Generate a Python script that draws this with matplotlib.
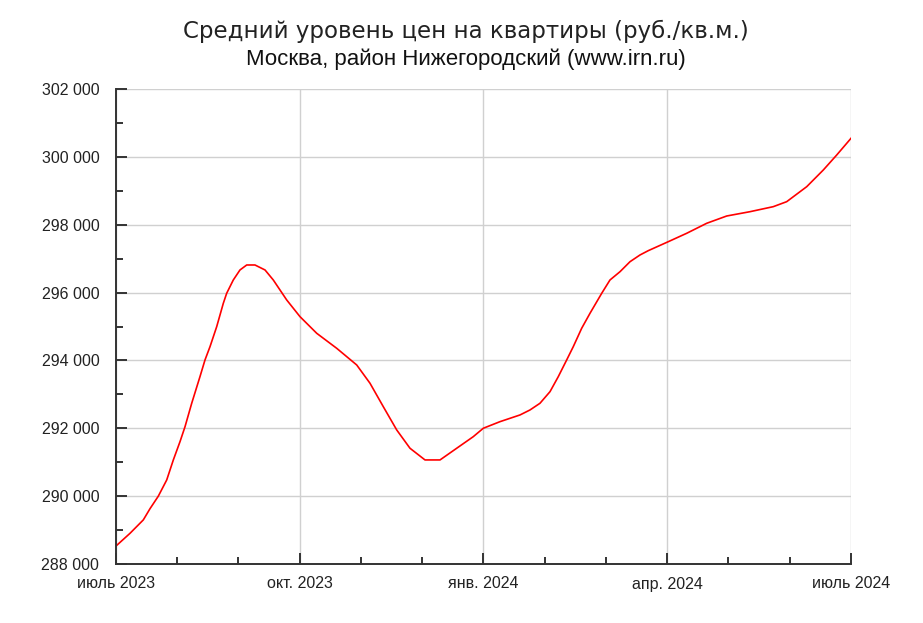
"""Average apartment price, Moscow, Nizhegorodsky district (irn.ru)."""

import matplotlib

matplotlib.use("Agg")

import matplotlib.pyplot as plt
from matplotlib.ticker import FixedLocator, MultipleLocator, FuncFormatter

# x position in months since July 2023
month_pos = [
    0.0, 0.229, 0.446, 0.555, 0.691, 0.828, 0.936, 1.045, 1.127, 1.236,
    1.371, 1.453, 1.535, 1.644, 1.752, 1.807, 1.915, 2.024, 2.134, 2.269,
    2.433, 2.568, 2.787, 3.004, 3.277, 3.603, 3.930, 4.147, 4.364, 4.583,
    4.800, 5.045, 5.290, 5.562, 5.833, 5.997, 6.269, 6.596, 6.759, 6.922,
    7.086, 7.221, 7.358, 7.466, 7.603, 7.739, 7.930, 8.065, 8.229, 8.392,
    8.555, 8.690, 9.017, 9.317, 9.644, 9.971, 10.351, 10.731, 10.950, 11.277,
    11.548, 11.767, 12.0,
]
price = [
    288530, 288905, 289300, 289630, 290000, 290477, 291067, 291606, 292048, 292737,
    293522, 294014, 294407, 294995, 295684, 295979, 296371, 296666, 296813, 296813,
    296666, 296371, 295782, 295290, 294800, 294358, 293866, 293327, 292637, 291951,
    291411, 291067, 291067, 291411, 291753, 292001, 292195, 292393, 292540, 292737,
    293080, 293522, 294014, 294407, 294948, 295390, 295979, 296371, 296616, 296910,
    297108, 297235, 297500, 297747, 298042, 298257, 298384, 298532, 298679, 299121,
    299613, 300055, 300547,
]

major_pos = [0, 3, 6, 9, 12]
major_labels = ["июль 2023", "окт. 2023", "янв. 2024", "апр. 2024", "июль 2024"]

title = "Средний уровень цен на квартиры (руб./кв.м.)"
subtitle = "Москва, район Нижегородский (www.irn.ru)"

fig = plt.figure(figsize=(9.23, 6.23), dpi=100)
ax = fig.add_axes([116 / 923, 59 / 623, 735 / 923, 475 / 623])

ax.plot(month_pos, price, color="#ff0000", linewidth=1.2)

ax.set_xlim(0, 12)
ax.set_ylim(288000, 302000)

ax.xaxis.set_major_locator(FixedLocator(major_pos))
ax.xaxis.set_minor_locator(MultipleLocator(1))
ax.set_xticklabels(major_labels)
ax.yaxis.set_major_locator(MultipleLocator(2000))
ax.yaxis.set_minor_locator(MultipleLocator(1000))
ax.yaxis.set_major_formatter(FuncFormatter(lambda v, _: f"{int(v):,}".replace(",", " ")))

ax.grid(True, which="major", color="#d0d0d0", linewidth=1.0)
ax.set_axisbelow(True)

for side in ("top", "right"):
    ax.spines[side].set_visible(False)
for side in ("left", "bottom"):
    ax.spines[side].set_color("#333333")
    ax.spines[side].set_linewidth(1.4)

ax.tick_params(which="both", direction="in", color="#333333", width=1.4,
               labelsize=11.5, labelcolor="#222222")
ax.tick_params(which="major", length=8)
ax.tick_params(which="minor", length=5)
ax.tick_params(axis="y", pad=12)
ax.tick_params(axis="x", pad=9)
for lab in ax.get_xticklabels() + ax.get_yticklabels():
    lab.set_family("Liberation Sans")

fig.text(466 / 923, 1 - 31.5 / 623, title, ha="center", va="center",
         fontsize=16.5, family="DejaVu Sans", color="#222222")
fig.text(466 / 923, 1 - 59.5 / 623, subtitle, ha="center", va="center",
         fontsize=16, family="Liberation Sans", color="#111111")

fig.savefig("out.png", dpi=100)
plt.close(fig)
